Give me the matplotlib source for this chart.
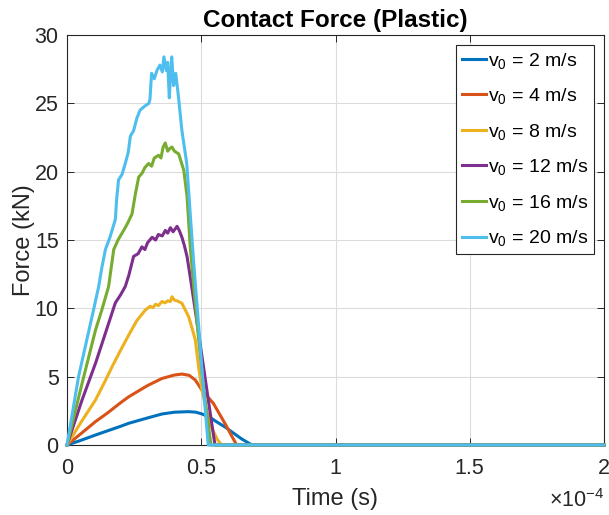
import matplotlib
matplotlib.use("Agg")
import matplotlib.pyplot as plt

plt.rcParams['font.family'] = ['Liberation Sans', 'DejaVu Sans']
plt.rcParams['mathtext.fontset'] = 'custom'
plt.rcParams['mathtext.rm'] = 'Liberation Sans'
plt.rcParams['mathtext.it'] = 'Liberation Sans'

# time in units of 1e-4 s, force in kN
t_2 = [0, .05, .106, .15, .2, .23, .3, .354, .4, .453, .48, .503, .53, .557, .59, .62, .65, .68, .69, 2]
f_2 = [0, 0.33, 0.73, 1.03, 1.37, 1.59, 1.98, 2.27, 2.4, 2.44, 2.4, 2.27, 2.05, 1.7, 1.3, 0.87, 0.45, 0.1, 0, 0]

t_4 = [0, .05, .106, .15, .2, .23, .3, .354, .4, .428, .455, .478, .503, .525, .545, .57, .595, .615, .632, 2]
f_4 = [0, 0.8, 1.71, 2.33, 3.1, 3.53, 4.35, 4.87, 5.12, 5.19, 5.1, 4.75, 4.0, 3.5, 3.05, 2.2, 1.34, 0.6, 0, 0]

t_8 = [0, .05, .106, .14, .168, .2, .23, .26, .292, .31, .32, .33, .34, .354, .365, .375,
       .385, .391, .4, .41, .428, .44, .453, .465, .478, .49, .503, .52, .54, .56, .576, 2]
f_8 = [0, 1.6, 3.29, 4.6, 5.73, 6.95, 8.05, 9.1, 9.88, 10.15, 10.05, 10.3, 10.2, 10.5, 10.4, 10.55,
       10.5, 10.85, 10.6, 10.55, 10.37, 9.9, 9.39, 8.6, 7.68, 5.73, 4.0, 2.5, 1.2, 0.4, 0, 0]

t_12 = [0, .056, .106, .13, .155, .18, .2, .217, .23, .248, .265, .279, .29, .3, .317, .33, .34,
        .355, .366, .375, .385, .395, .41, .418, .428, .437, .447, .459, .47, .49, .51, .53, .551, 2]
f_12 = [0, 3.29, 5.97, 7.4, 8.9, 10.4, 11.0, 11.6, 12.4, 13.8, 14.0, 14.5, 14.3, 14.8, 15.2, 15.0, 15.4,
        15.3, 15.7, 15.5, 15.9, 15.6, 16.0, 15.7, 15.2, 14.6, 13.8, 12.3, 10.85, 8.2, 5.5, 2.8, 0, 0]

t_16 = [0, .056, .106, .13, .155, .174, .19, .211, .225, .242, .255, .267, .28, .29, .304, .315, .325,
        .341, .35, .358, .366, .375, .383, .391, .4, .416, .435, .447, .459, .472, .49, .51, .536, 2]
f_16 = [0, 4.5, 8.4, 9.9, 11.6, 14.3, 15.0, 15.7, 16.2, 16.9, 18.4, 19.6, 19.9, 20.3, 20.6, 20.4, 21.0,
        21.2, 21.0, 21.8, 22.1, 21.5, 21.7, 21.8, 21.5, 21.3, 20.1, 18.2, 14.5, 11.6, 7.8, 4.0, 0, 0]

t_20 = [0, .043, .099, .118, .13, .143, .16, .18, .185, .192, .205, .217, .228, .236, .248, .26, .272,
        .29, .305, .309, .315, .325, .335, .346, .355, .361, .37, .375, .381, .385, .39, .397, .405,
        .415, .428, .446, .459, .472, .49, .505, .526, 2]
f_20 = [0, 5.0, 9.9, 11.6, 13.0, 14.3, 15.2, 16.5, 18.0, 19.4, 19.8, 20.6, 21.4, 22.6, 23.0, 23.9, 24.5,
        24.8, 25.0, 25.3, 27.2, 26.8, 27.4, 27.8, 27.3, 28.4, 27.4, 28.0, 25.4, 26.8, 28.4, 26.3, 27.2,
        25.5, 23.0, 20.6, 16.9, 13.3, 8.8, 4.9, 0, 0]

series = [(t_2, f_2, '2'), (t_4, f_4, '4'), (t_8, f_8, '8'),
          (t_12, f_12, '12'), (t_16, f_16, '16'), (t_20, f_20, '20')]
colors = ['#0072BD', '#D95319', '#EDB120', '#7E2F8E', '#77AC30', '#4DBEEE']

fig = plt.figure(figsize=(6.09, 5.15), dpi=100)
ax = fig.add_axes([67/609, 70/515, 537/609, 410/515])

for (t, f, v), c in zip(series, colors):
    ax.plot(t, f, color=c, lw=2.2, label=r'$\mathregular{v_0}$ = %s m/s' % v, clip_on=False, zorder=3)

ax.set_xlim(0, 2)
ax.set_ylim(0, 30)
ax.set_xticks([0, 0.5, 1, 1.5, 2])
ax.set_xticklabels(['0', '0.5', '1', '1.5', '2'])
ax.set_yticks(range(0, 31, 5))
ax.grid(True, color='#dcdcdc', lw=0.8)
ax.set_axisbelow(True)
ax.tick_params(direction='in', top=True, right=True, labelsize=15.5, length=5,
               width=0.7, colors='#262626')
ax.tick_params(axis='x', pad=9)
ax.tick_params(axis='y', pad=6)
for s in ax.spines.values():
    s.set_color('#262626')
    s.set_linewidth(0.8)

ax.set_title('Contact Force (Plastic)', fontsize=17.5, fontweight='bold', pad=6)
ax.set_xlabel('Time (s)', fontsize=17, color='#262626', labelpad=7)
ax.set_ylabel('Force (kN)', fontsize=17, color='#262626', labelpad=0)
ax.text(1.0, -0.135, r'$\times\mathregular{10^{-4}}$', transform=ax.transAxes,
        ha='right', va='center', fontsize=15.5, color='#262626')

leg = ax.legend(loc='upper right', fontsize=14, handlelength=1.25, handletextpad=0.12,
                borderaxespad=0.5, fancybox=False, framealpha=1, labelspacing=0.8,
                borderpad=0.3)
leg.get_frame().set_edgecolor('#262626')
leg.get_frame().set_linewidth(0.8)

fig.savefig('out.png', dpi=100)
